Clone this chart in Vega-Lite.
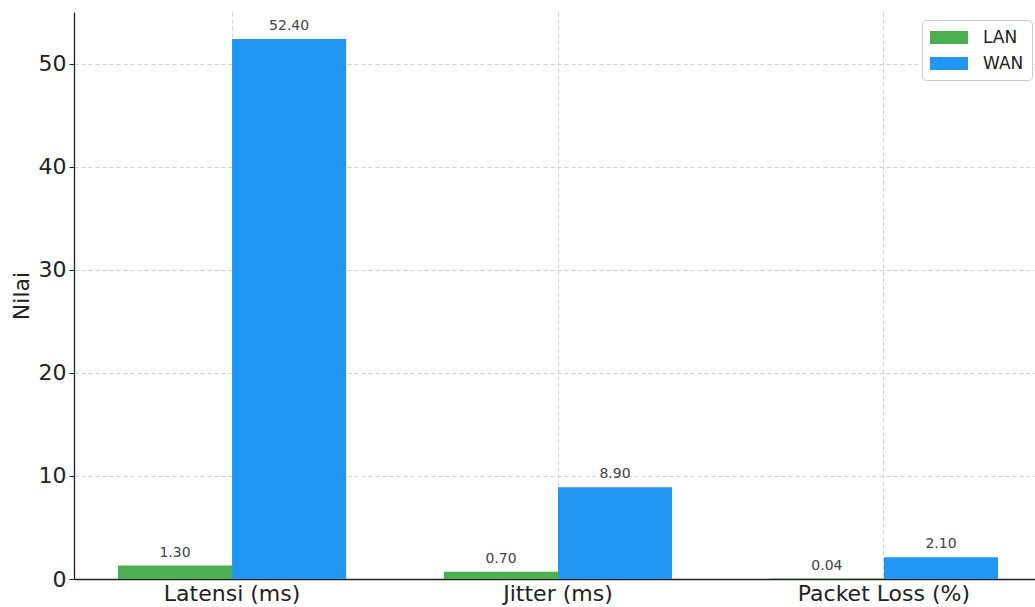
{
  "$schema": "https://vega.github.io/schema/vega-lite/v6.json",
  "width": 961,
  "height": 567,
  "autosize": {"type": "none"},
  "padding": {"left": 74, "top": 12, "right": 0, "bottom": 28},
  "background": "white",
  "config": {
    "font": "DejaVu Sans",
    "view": {"stroke": null},
    "axis": {"labelFont": "DejaVu Sans", "titleFont": "DejaVu Sans"}
  },
  "data": {
    "values": [
      {"metric": "Latensi (ms)", "network": "LAN", "value": 1.3},
      {"metric": "Latensi (ms)", "network": "WAN", "value": 52.4},
      {"metric": "Jitter (ms)", "network": "LAN", "value": 0.7},
      {"metric": "Jitter (ms)", "network": "WAN", "value": 8.9},
      {"metric": "Packet Loss (%)", "network": "LAN", "value": 0.04},
      {"metric": "Packet Loss (%)", "network": "WAN", "value": 2.1}
    ]
  },
  "encoding": {
    "x": {
      "field": "metric",
      "type": "nominal",
      "sort": null,
      "scale": {"paddingInner": 0.3, "paddingOuter": 0.135, "range": [0, 968]},
      "axis": {
        "title": null,
        "labelAngle": 0,
        "labelFontSize": 22,
        "labelColor": "#222",
        "labelPadding": 4,
        "ticks": false,
        "domainColor": "#222",
        "domainWidth": 1.3,
        "grid": true,
        "gridColor": "#cccccc",
        "gridDash": [4, 3],
        "gridWidth": 0.9
      }
    },
    "xOffset": {
      "field": "network",
      "type": "nominal",
      "scale": {"domain": ["LAN", "WAN"], "paddingInner": 0, "paddingOuter": 0}
    },
    "y": {
      "field": "value",
      "type": "quantitative",
      "scale": {"domain": [0, 55.02], "nice": false, "zero": true},
      "axis": {
        "title": "Nilai",
        "titleFontSize": 22,
        "titleFontWeight": "normal",
        "titleColor": "#222",
        "titlePadding": 5,
        "values": [0, 10, 20, 30, 40, 50],
        "labelFontSize": 22,
        "labelColor": "#222",
        "labelPadding": 3,
        "tickSize": 5,
        "tickColor": "#222",
        "domainColor": "#222",
        "domainWidth": 1.3,
        "grid": true,
        "gridColor": "#cccccc",
        "gridDash": [4, 3],
        "gridWidth": 0.9
      }
    }
  },
  "layer": [
    {
      "mark": {"type": "bar", "clip": true},
      "encoding": {
        "color": {
          "field": "network",
          "type": "nominal",
          "scale": {"domain": ["LAN", "WAN"], "range": ["#4CAF50", "#2196F3"]},
          "legend": {
            "title": null,
            "orient": "none",
            "legendX": 848,
            "legendY": 8,
            "symbolType": "M-1,-0.68H3V0.68H-1Z",
            "symbolSize": 361,
            "symbolStrokeWidth": 0,
            "labelFontSize": 17,
            "labelColor": "#222",
            "labelOffset": 34,
            "rowPadding": 8,
            "padding": 8,
            "strokeColor": "#cccccc",
            "fillColor": "white",
            "cornerRadius": 4
          }
        }
      }
    },
    {
      "mark": {"type": "text", "baseline": "alphabetic", "dy": -9, "fontSize": 14, "color": "#444"},
      "encoding": {
        "text": {"field": "value", "type": "quantitative", "format": ".2f"}
      }
    }
  ]
}
